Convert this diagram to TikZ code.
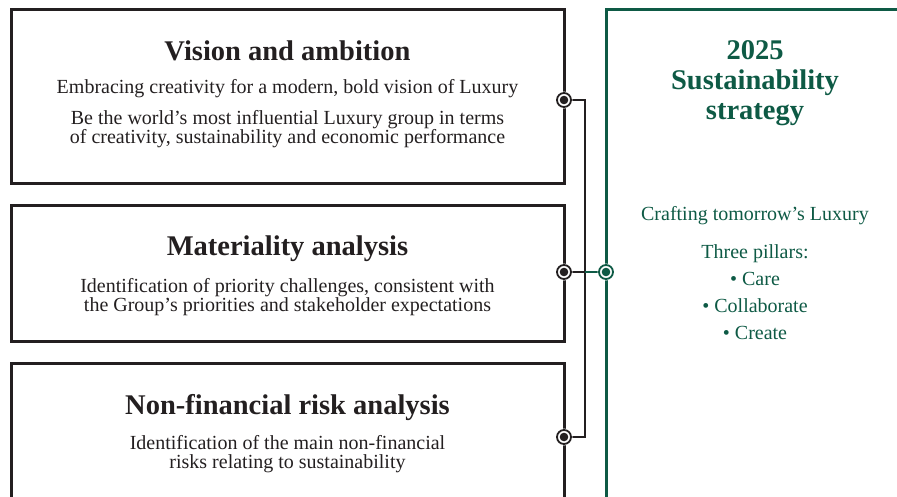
\documentclass[tikz,border=0pt]{standalone}
\usepackage{fontspec}
\setmainfont{Liberation Serif}
\definecolor{dk}{HTML}{231F20}
\definecolor{gr}{HTML}{0E5A45}
\begin{document}
\begin{tikzpicture}[x=1pt,y=-1pt,
  box/.style={draw=dk,line width=3pt},
  gbox/.style={draw=gr,line width=3pt},
  ttl/.style={font=\fontsize{28.5}{30}\selectfont\bfseries,text=dk,anchor=center},
  bdy/.style={font=\fontsize{20}{18.5}\selectfont,text=dk,align=center,anchor=center},
  gt/.style={font=\fontsize{28.5}{30}\selectfont\bfseries,text=gr,align=center,anchor=center},
  gb/.style={font=\fontsize{20}{20}\selectfont,text=gr,align=center,anchor=center},
  conn/.style={draw=dk,line width=2.8pt}
]
\useasboundingbox (0,0) rectangle (897,496);
% boxes
\draw[box] (11,183) -- (11,9) -- (564,9) -- (564,183) -- cycle;
\draw[box] (11,341) -- (11,205) -- (564,205) -- (564,341) -- cycle;
\draw[box] (11,510) -- (11,363) -- (564,363) -- (564,510);
\draw[gbox] (606,510) -- (606,9) -- (910,9);
% connector coordinates
\coordinate (c1) at (564,100);
\coordinate (c2) at (564,272);
\coordinate (c3) at (564,437);
\coordinate (b1) at (585,100);
\coordinate (b2) at (585,272);
\coordinate (b3) at (585,437);
\coordinate (g) at (606,272);
\draw[conn] (c1) -- (b1) -- (b3) -- (c3);
\draw[conn] (c2) -- (b2);
\draw[draw=gr,line width=2.8pt] (b2) -- (g);
% circles
\foreach \c in {c1,c2,c3}{
  \fill[white] (\c) circle (8.5pt);
  \draw[dk,line width=1.8pt] (\c) circle (7pt);
  \fill[dk] (\c) circle (4.3pt);
}
\fill[white] (g) circle (8.5pt);
\draw[gr,line width=1.8pt] (g) circle (7pt);
\fill[gr] (g) circle (4.3pt);
% texts box 1
\node[ttl] (t1) at (287.5,51) {Vision and ambition};
\node[bdy] (l1) at (287.5,89) {Embracing creativity for a modern, bold vision of Luxury};
\node[bdy] (l2) at (287.5,129) {Be the world’s most influential Luxury group in terms\\of creativity, sustainability and economic performance};
% box 2
\node[ttl] (t2) at (287.5,249) {Materiality analysis};
\node[bdy] (l3) at (287.5,297) {Identification of priority challenges, consistent with\\the Group’s priorities and stakeholder expectations};
% box 3
\node[ttl] (t3) at (287.5,408) {Non-financial risk analysis};
\node[bdy] (l4) at (287.5,454) {Identification of the main non-financial\\risks relating to sustainability};
% green box
\node[gt] (s1) at (755,83) {2025\\Sustainability\\strategy};
\node[gb] (s2) at (755,216) {Crafting tomorrow’s Luxury};
\node[gb] (s3) at (755,254) {Three pillars:};
\node[gb] (s4) at (755,279) {• Care};
\node[gb] (s5) at (755,306) {• Collaborate};
\node[gb] (s6) at (755,333) {• Create};
\end{tikzpicture}
\end{document}
